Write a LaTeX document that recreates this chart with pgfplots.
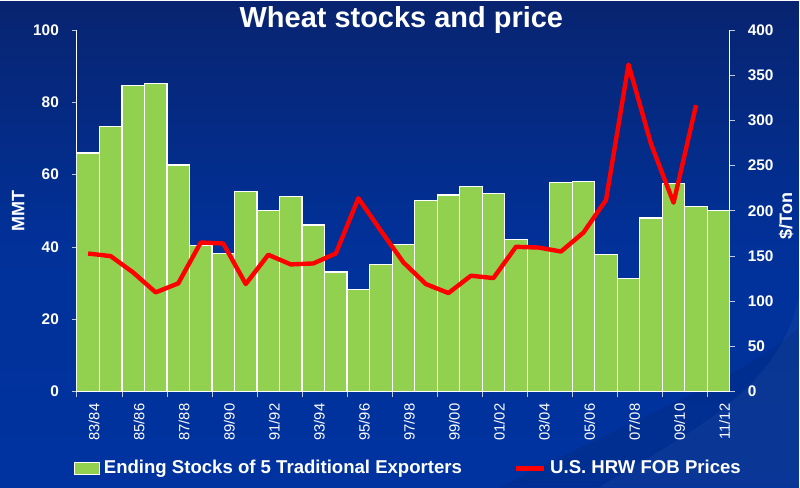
\documentclass[border=0pt]{standalone}
\usepackage{pgfplots}
\pgfplotsset{compat=1.18}
\usepackage{pgfplotstable}
\usepackage{fontspec}
\setmainfont{Liberation Sans}

\definecolor{bgtop}{RGB}{8,36,112}
\definecolor{bgbot}{RGB}{0,51,160}
\definecolor{bargreen}{RGB}{146,208,80}
\definecolor{tickgray}{RGB}{190,200,225}

% ending stocks (MMT), 83/84 .. 11/12
\pgfplotstableread{
x y
0 66.0
1 73.3
2 84.6
3 85.2
4 62.7
5 40.5
6 38.2
7 55.4
8 50.2
9 53.9
10 46.1
11 33.1
12 28.3
13 35.2
14 40.7
15 52.8
16 54.4
17 56.8
18 54.8
19 42.0
20 39.9
21 57.9
22 58.2
23 38.0
24 31.2
25 48.0
26 57.5
27 51.1
28 50.2
}\stocks

% US HRW FOB prices ($/ton)
\pgfplotstableread{
x y
0 152.8
1 149.9
2 131.8
3 109.8
4 119.7
5 165.0
6 163.9
7 119.0
8 151.4
9 140.7
10 141.8
11 152.8
12 214.0
13 178.0
14 143.0
15 119.0
16 109.0
17 128.2
18 125.6
19 160.2
20 159.4
21 155.0
22 176.0
23 212.0
24 362.0
25 274.0
26 209.0
27 317.0
}\prices

\begin{document}
\begin{tikzpicture}
% background
\shade[top color=bgtop, bottom color=bgbot, middle color=bgbot!85!bgtop]
  (0,0) rectangle (400pt,243.5pt);
\begin{scope}
\clip (0,0) rectangle (400pt,243.5pt);
\fill[black, opacity=0.08] (250pt,0) .. controls (330pt,40pt) and (380pt,60pt) .. (400pt,80pt)
  -- (400pt,0) -- cycle;
\fill[white, opacity=0.04] (300pt,0) .. controls (350pt,30pt) and (390pt,50pt) .. (400pt,95pt)
  -- (400pt,0) -- cycle;
\end{scope}

\node[text=white, font=\fontsize{14.5}{16}\selectfont\bfseries] at (201pt,234pt) {Wheat stocks and price};

\begin{axis}[
  at={(38.5pt,48pt)}, anchor=south west,
  scale only axis, width=327pt, height=181pt,
  xmin=-0.5, xmax=28.5, ymin=0, ymax=100,
  axis x line*=bottom, axis y line*=left,
  axis line style={white, line width=0.6pt},
  ytick={0,20,40,60,80,100},
  xtick={0,2,...,28},
  xticklabels={83/84,85/86,87/88,89/90,91/92,93/94,95/96,97/98,99/00,01/02,03/04,05/06,07/08,09/10,11/12},
  minor xtick={-0.5,1.5,...,27.5},
  major x tick style={draw=none},
  minor x tick style={tickgray, line width=0.4pt},
  y tick style={tickgray, line width=0.4pt},
  tick align=outside, major tick length=2.5pt, minor tick length=2.5pt,
  xticklabel style={rotate=90, anchor=east, text=white, font=\fontsize{7.4}{8}\selectfont, yshift=-3pt},
  yticklabel style={text=white, font=\fontsize{7.7}{9}\selectfont\bfseries, xshift=-3pt},
  /pgf/number format/assume math mode=true,
  ylabel={MMT},
  ylabel style={text=white, font=\fontsize{9}{10}\selectfont\bfseries,
    at={(axis description cs:-0.09,0.5)}, anchor=center},
  legend columns=2,
  legend style={at={(axis description cs:0.509,-0.213)}, anchor=center,
    draw=none, fill=none, text=white, font=\fontsize{9.3}{11}\selectfont\bfseries,
    inner sep=0pt, /tikz/every even column/.append style={column sep=24pt}},
  legend image code/.code={\draw[#1] (0pt,-3pt) rectangle (12.5pt,3pt);},
]
\addplot[ybar, bar width=1, fill=bargreen, draw=white, line width=0.6pt] table[x=x,y=y] {\stocks};
\addlegendentry{Ending Stocks of 5 Traditional Exporters}
\addlegendimage{legend image code/.code={\draw[red, line width=2.2pt] (0pt,0pt) -- (14pt,0pt);}}
\addlegendentry{U.S. HRW FOB Prices}
\end{axis}

\begin{axis}[
  at={(38.5pt,48pt)}, anchor=south west,
  scale only axis, width=327pt, height=181pt,
  xmin=-0.5, xmax=28.5, ymin=0, ymax=400,
  axis x line=none, axis y line*=right,
  axis line style={white, line width=0.6pt},
  ytick={0,50,...,400},
  y tick style={tickgray, line width=0.4pt},
  tick align=outside, major tick length=2.5pt,
  yticklabel style={text=white, font=\fontsize{7.7}{9}\selectfont\bfseries, xshift=3pt},
  /pgf/number format/assume math mode=true,
  ylabel={\$/Ton},
  ylabel style={text=white, font=\fontsize{9}{10}\selectfont\bfseries,
    at={(axis description cs:1.086,0.486)}, anchor=center},
]
\addplot[red, line width=2.2pt, line join=round, mark=none] table[x=x,y=y] {\prices};
\end{axis}
\end{tikzpicture}
\end{document}
